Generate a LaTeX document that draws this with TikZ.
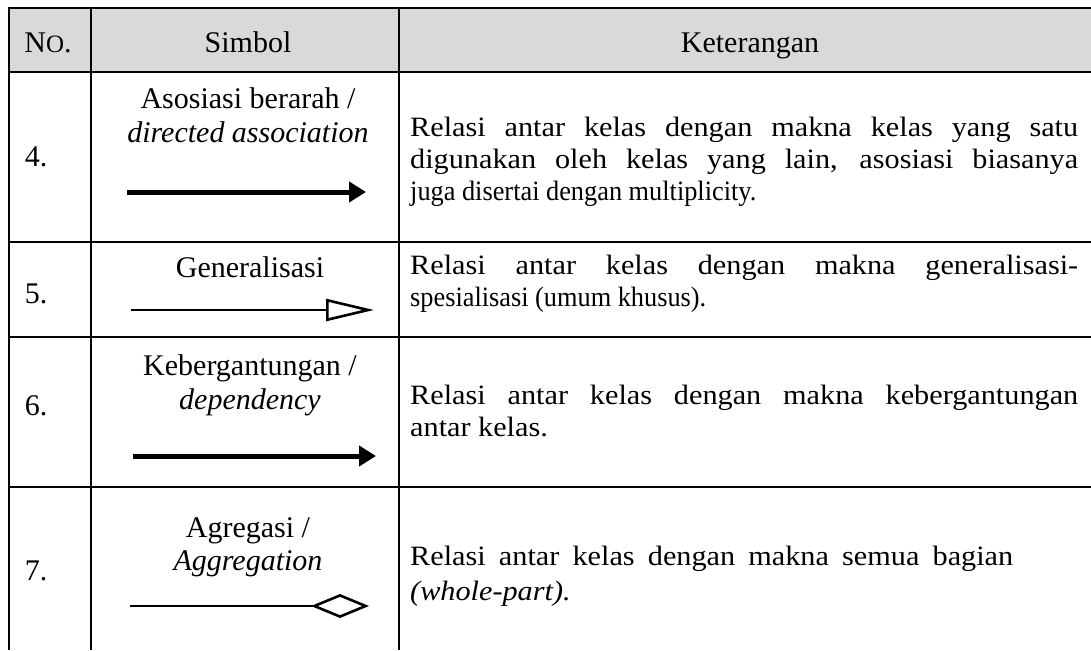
\documentclass[tikz,border=0pt]{standalone}
\usepackage{fontspec}
\setmainfont{Liberation Serif}
\newfontfamily\descfont[FakeStretch=1.08]{Liberation Serif}
\newfontfamily\tightfont[FakeStretch=0.94]{Liberation Serif}
\usetikzlibrary{positioning, arrows.meta}

\definecolor{headgray}{HTML}{D9D9D9}
\newcommand{\jline}[1]{\makebox[668pt][s]{#1}}

\tikzset{
  tabline/.style={line width=2.2pt},
  txt/.style={inner sep=0pt, font=\fontsize{30}{32}\selectfont},
  desc/.style={inner sep=0pt, anchor=base west, font=\descfont\fontsize{28}{32}\selectfont},
  tight/.style={desc, font=\tightfont\fontsize{28}{32}\selectfont},
  assoc/.style={line width=5pt, -{Triangle[length=17pt, width=20pt]}},
  gener/.style={line width=2.6pt, -{Triangle[open, fill=white, length=48pt, width=22pt]}},
  aggr/.style={line width=2.6pt, -{Diamond[open, fill=white, length=58pt, width=24pt]}}
}

\begin{document}
\begin{tikzpicture}[x=1pt, y=-1pt]
      \useasboundingbox (0,0) rectangle (1091,650);

      % header
      \fill [headgray] (9,8) rectangle (1091,72);%
      \draw [tabline] (8,8) -- (1091,8);%
      \draw [tabline] (8,72) -- (1091,72);%
      \foreach \y in {242,337,487}
        \draw [tabline] (8,\y) -- (1091,\y);%
      \foreach \x in {9,91,399}
        \draw [tabline] (\x,7) -- (\x,650);%

      \node [txt, anchor=base] (hno) at (48,53) {N{\fontsize{25}{25}\selectfont O}.};%
      \node [txt, anchor=base] (hsym) at (248,53) {Simbol};%
      \node [txt, anchor=base] (hket) at (750,53) {Keterangan};%

      % row 4
      \node [txt, anchor=base] (no4) at (36,166) {4.};%
      \node [txt, anchor=base] (sym4a) at (248,109) {Asosiasi berarah /};%
      \node [txt, anchor=base] (sym4b) at (248,142) {\itshape directed association};%
      \coordinate (a4s) at (127,192);%
      \coordinate (a4e) at (366,192);%
      \draw [assoc] (a4s) -- (a4e);%
      \node [desc] (ket4a) at (410,136)
      {\jline{Relasi antar kelas dengan makna kelas yang satu}};%
      \node [desc] (ket4b) at (410,168)
      {\jline{digunakan oleh kelas yang lain, asosiasi biasanya}};%
      \node [tight] (ket4c) at (410,200)
      {juga disertai dengan multiplicity.};%

      % row 5
      \node [txt, anchor=base] (no5) at (36,303) {5.};%
      \node [txt, anchor=base] (sym5) at (250,277) {Generalisasi};%
      \coordinate (a5s) at (131,310);%
      \coordinate (a5e) at (374,310);%
      \draw [gener] (a5s) -- (a5e);%
      \node [desc] (ket5a) at (410,274)
      {\jline{Relasi antar kelas dengan makna generalisasi-}};%
      \node [tight] (ket5b) at (410,306)
      {spesialisasi (umum khusus).};%

      % row 6
      \node [txt, anchor=base] (no6) at (36,415) {6.};%
      \node [txt, anchor=base] (sym6a) at (250,375) {Kebergantungan /};%
      \node [txt, anchor=base] (sym6b) at (250,409) {\itshape dependency};%
      \coordinate (a6s) at (133,456);%
      \coordinate (a6e) at (376,456);%
      \draw [assoc] (a6s) -- (a6e);%
      \node [desc] (ket6a) at (410,404)
      {\jline{Relasi antar kelas dengan makna kebergantungan}};%
      \node [desc] (ket6b) at (410,436)
      {antar kelas.};%

      % row 7
      \node [txt, anchor=base] (no7) at (36,580) {7.};%
      \node [txt, anchor=base] (sym7a) at (248,537) {Agregasi /};%
      \node [txt, anchor=base] (sym7b) at (248,570) {\itshape Aggregation};%
      \coordinate (a7s) at (130,606);%
      \coordinate (a7e) at (369,606);%
      \draw [aggr] (a7s) -- (a7e);%
      \node [desc] (ket7a) at (410,565)
      {\makebox[603pt][s]{Relasi antar kelas dengan makna semua bagian}};%
      \node [desc] (ket7b) at (410,600)
      {\itshape (whole-part).};%
    \end{tikzpicture}
\end{document}
